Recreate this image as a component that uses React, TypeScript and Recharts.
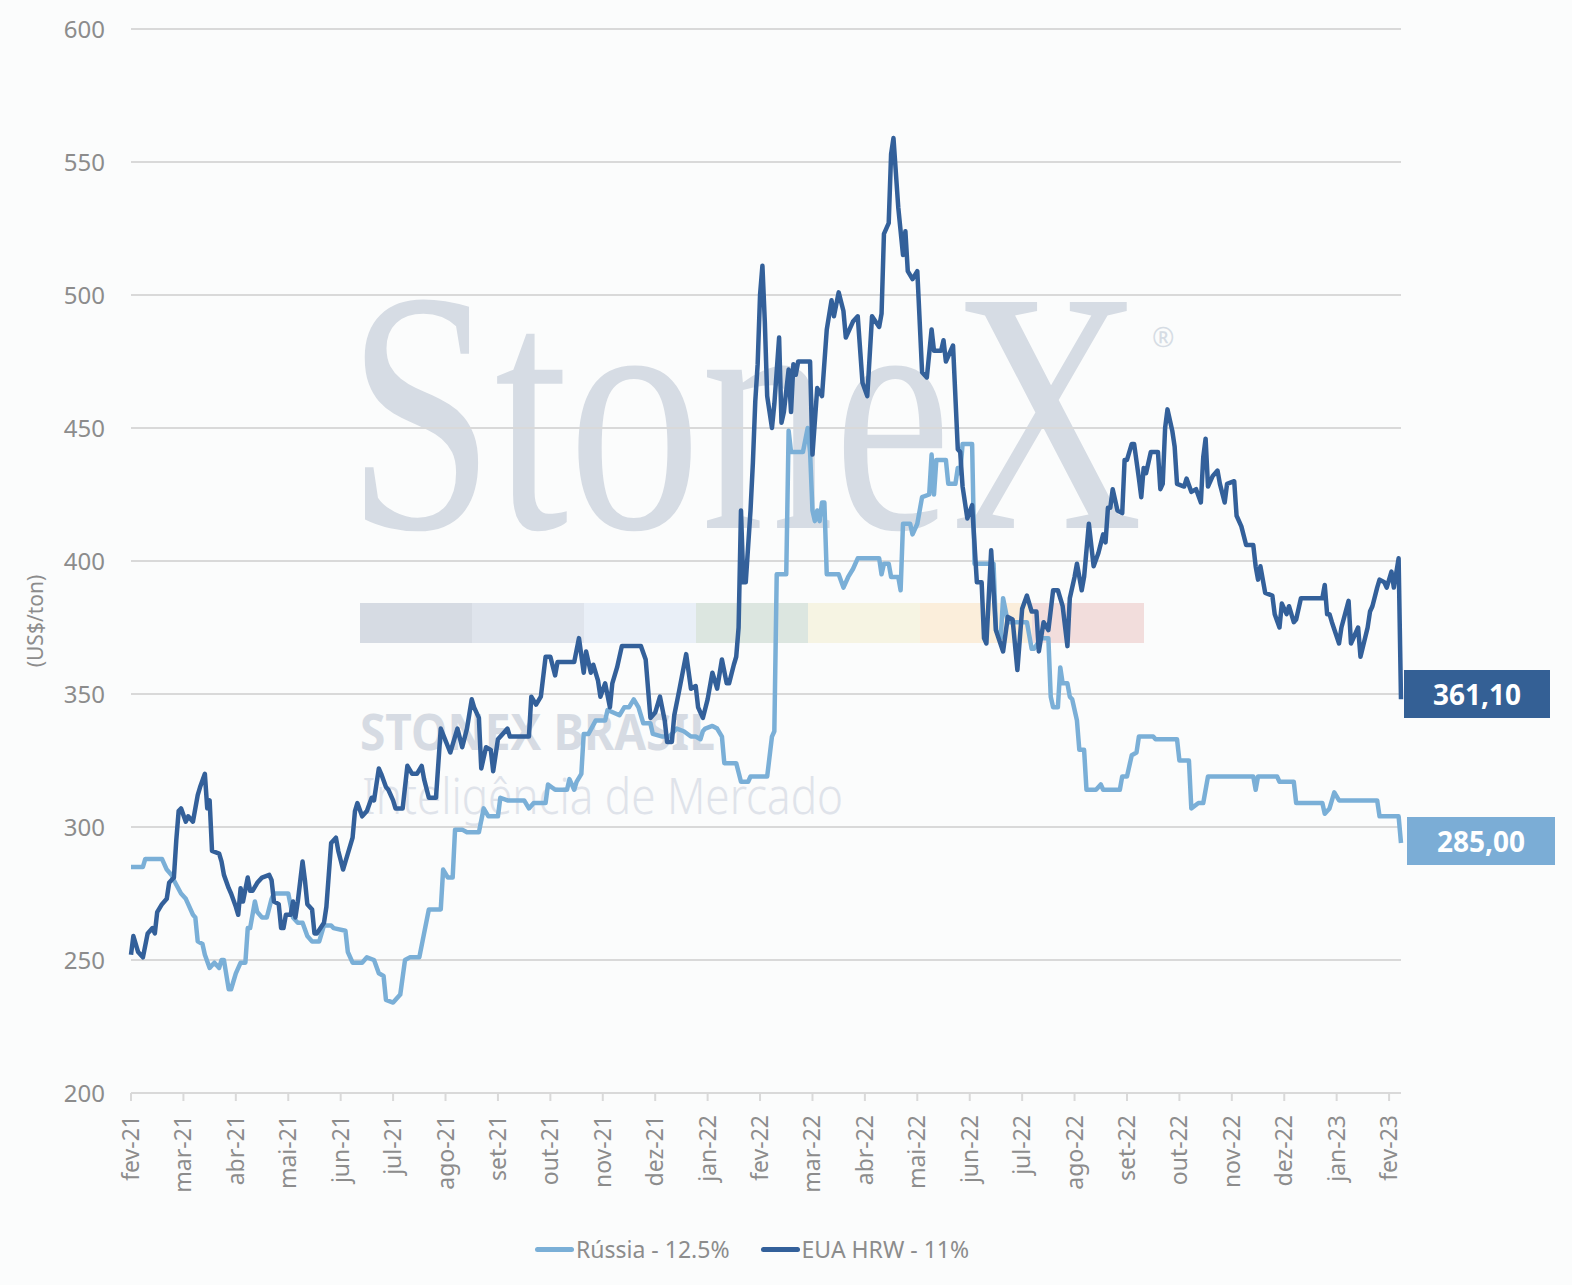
import { LineChart, Line, XAxis, YAxis, CartesianGrid } from "recharts";

// x = trading-day index (axis labels every 22 sessions, as in the source chart)
const monthLabels = [
  "fev-21", "mar-21", "abr-21", "mai-21", "jun-21", "jul-21", "ago-21", "set-21", "out-21",
  "nov-21", "dez-21", "jan-22", "fev-22", "mar-22", "abr-22", "mai-22", "jun-22", "jul-22",
  "ago-22", "set-22", "out-22", "nov-22", "dez-22", "jan-23", "fev-23",
];
const yTicks = [200, 250, 300, 350, 400, 450, 500, 550, 600];

// EUA HRW - 11%
const usDays = [
  0, 1, 3, 5, 7, 9, 10, 11, 13, 15,
  16, 18, 19, 20, 21, 23, 24, 26, 28, 29,
  31, 32, 33, 34, 37, 38, 39, 41, 42, 44,
  45, 46, 47, 49, 50, 51, 53, 55, 58, 59,
  60, 62, 63, 64, 65, 67, 68, 69, 70, 72,
  73, 74, 76, 77, 78, 81, 82, 83, 84, 86,
  87, 89, 91, 93, 94, 95, 97, 99, 101, 102,
  104, 105, 107, 108, 110, 111, 114, 116, 118, 120,
  122, 123, 125, 128, 130, 134, 137, 139, 141, 143,
  144, 146, 147, 149, 151, 152, 154, 156, 158, 159,
  167, 168, 170, 172, 174, 176, 178, 179, 186, 188,
  190, 191, 193, 194, 196, 197, 199, 201, 202, 204,
  206, 214, 216, 218, 220, 222, 224, 225, 227, 228,
  230, 233, 235, 237, 238, 240, 242, 244, 246, 248,
  250, 251, 253, 254, 255, 256, 257, 258, 260, 261,
  262, 263, 264, 265, 266, 267, 269, 270, 272, 273,
  274, 276, 277, 278, 279, 280, 285, 286, 288, 290,
  292, 294, 295, 297, 299, 300, 303, 305, 307, 309,
  311, 314, 315, 316, 318, 319, 320, 322, 324, 325,
  326, 328, 330, 332, 334, 336, 337, 340, 341, 342,
  345, 347, 348, 349, 351, 353, 355, 357, 358, 359,
  361, 363, 366, 368, 370, 372, 374, 376, 378, 380,
  381, 383, 385, 387, 389, 391, 393, 394, 396, 397,
  399, 400, 402, 404, 406, 408, 409, 410, 411, 412,
  414, 416, 417, 418, 420, 421, 423, 424, 425, 426,
  428, 431, 432, 433, 434, 435, 437, 438, 439, 442,
  443, 445, 447, 449, 450, 451, 452, 454, 456, 457,
  459, 460, 463, 464, 466, 468, 471, 472, 473, 474,
  476, 479, 480, 482, 483, 485, 486, 488, 489, 491,
  500, 501, 502, 503, 504, 507, 508, 511, 512, 515,
  516, 519, 520, 521, 523, 524, 526, 527, 529, 530,
  532, 533,
];
const usPrices = [
  252, 259, 253, 251, 260, 262, 260, 268, 271, 273,
  279, 281, 295, 306, 307, 302, 304, 302, 312, 315,
  320, 307, 310, 291, 290, 287, 282, 277, 275, 270,
  267, 277, 272, 281, 276, 276, 279, 281, 282, 280,
  272, 271, 262, 262, 267, 267, 272, 266, 272, 287,
  280, 271, 269, 260, 260, 264, 270, 282, 294, 296,
  291, 284, 290, 296, 306, 309, 304, 306, 311, 310,
  322, 320, 315, 314, 310, 307, 307, 323, 320, 320,
  323, 318, 311, 311, 337, 328, 337, 330, 337, 348,
  345, 341, 322, 330, 329, 321, 333, 335, 337, 334,
  334, 349, 346, 349, 364, 364, 357, 362, 362, 371,
  358, 366, 358, 361, 355, 349, 354, 345, 354, 360,
  368, 368, 363, 341, 343, 349, 340, 332, 332, 342,
  351, 365, 352, 353, 345, 341, 348, 358, 352, 363,
  354, 354, 361, 364, 375, 419, 392, 392, 419, 437,
  460, 474, 500, 511, 490, 462, 450, 459, 484, 452,
  456, 472, 456, 474, 470, 475, 475, 440, 465, 462,
  487, 498, 492, 501, 494, 484, 490, 492, 467, 462,
  492, 488, 493, 523, 527, 553, 559, 533, 515, 524,
  509, 506, 509, 471, 469, 487, 479, 479, 483, 475,
  481, 442, 441, 428, 416, 421, 392, 392, 371, 369,
  404, 374, 366, 379, 378, 359, 382, 387, 381, 381,
  366, 377, 374, 389, 389, 383, 368, 386, 394, 399,
  389, 394, 414, 398, 403, 410, 407, 420, 420, 427,
  419, 418, 438, 438, 444, 444, 431, 424, 435, 433,
  441, 441, 427, 429, 450, 457, 449, 443, 429, 428,
  431, 426, 427, 422, 439, 446, 428, 432, 434, 429,
  422, 429, 430, 417, 413, 406, 406, 398, 393, 398,
  388, 387, 380, 375, 384, 380, 383, 377, 378, 386,
  386, 391, 380, 380, 377, 369, 375, 385, 369, 375,
  364, 375, 381, 383, 390, 393, 392, 390, 396, 390,
  401, 348,
];

// Rússia - 12.5%
const ruDays = [
  0, 5, 6, 13, 15, 17, 18, 21, 23, 24,
  26, 27, 28, 30, 31, 33, 34, 35, 37, 38,
  39, 41, 42, 44, 46, 48, 49, 50, 52, 53,
  55, 57, 59, 60, 65, 66, 68, 70, 72, 74,
  76, 79, 81, 84, 85, 90, 91, 93, 97, 99,
  102, 104, 106, 107, 110, 113, 115, 117, 121, 123,
  125, 130, 131, 133, 135, 136, 139, 141, 146, 148,
  150, 154, 155, 158, 165, 167, 169, 174, 175, 178,
  183, 184, 186, 187, 189, 190, 192, 195, 199, 200,
  205, 207, 209, 211, 213, 215, 218, 219, 223, 226,
  229, 232, 235, 237, 239, 240, 241, 244, 246, 248,
  249, 254, 256, 259, 260, 267, 269, 270, 271, 275,
  276, 277, 282, 284, 285, 286, 287, 288, 289, 290,
  291, 292, 297, 299, 301, 303, 305, 314, 315, 316,
  318, 319, 322, 323, 324, 327, 328, 330, 332, 335,
  336, 337, 338, 342, 343, 346, 347, 348, 349, 353,
  354, 362, 363, 365, 366, 368, 376, 378, 379, 382,
  385, 386, 387, 389, 390, 391, 393, 394, 395, 397,
  398, 400, 401, 405, 407, 408, 415, 416, 418, 420,
  422, 423, 429, 430, 439, 440, 444, 445, 448, 450,
  452, 471, 472, 473, 481, 482, 488, 489, 500, 501,
  503, 505, 507, 523, 524, 532, 533,
];
const ruPrices = [
  285, 285, 288, 288, 284, 282, 280, 275, 273, 271,
  267, 266, 257, 256, 252, 247, 248, 249, 247, 250,
  250, 239, 239, 245, 249, 249, 262, 262, 272, 268,
  266, 266, 273, 275, 275, 275, 266, 264, 264, 259,
  257, 257, 263, 263, 262, 261, 253, 249, 249, 251,
  250, 245, 244, 235, 234, 237, 250, 251, 251, 260,
  269, 269, 284, 281, 281, 299, 299, 298, 298, 307,
  304, 304, 311, 310, 310, 307, 309, 309, 316, 314,
  314, 318, 314, 317, 320, 335, 335, 340, 340, 344,
  342, 345, 345, 348, 345, 339, 339, 335, 334, 334,
  337, 336, 334, 334, 333, 336, 337, 338, 337, 334,
  324, 324, 317, 317, 319, 319, 334, 336, 395, 395,
  449, 441, 441, 450, 441, 419, 415, 419, 415, 422,
  422, 395, 395, 390, 394, 397, 401, 401, 395, 399,
  399, 394, 394, 389, 414, 414, 410, 414, 424, 425,
  440, 425, 438, 438, 429, 429, 435, 433, 444, 444,
  399, 399, 374, 371, 386, 377, 377, 367, 367, 371,
  371, 349, 345, 345, 360, 354, 354, 349, 348, 340,
  329, 329, 314, 314, 316, 314, 314, 319, 319, 327,
  328, 334, 334, 333, 333, 325, 325, 307, 309, 309,
  319, 319, 314, 319, 319, 317, 317, 309, 309, 305,
  307, 313, 310, 310, 304, 304, 294,
];

const usData = usDays.map((d, i) => ({ d, v: usPrices[i] }));
const ruData = ruDays.map((d, i) => ({ d, v: ruPrices[i] }));
const monthTicks = monthLabels.map((_, i) => i * 22);

const FONT = "'Noto Sans', sans-serif";
const GREY = "#8c8c8c";
const DARK = "#33609a";
const LIGHT = "#7aafd7";

const MonthTick = (props: any) => {
  const { x, y, payload } = props;
  const label = monthLabels[Math.round(payload.value / 22)] ?? "";
  const tx = x + 8;
  const ty = y + 12;
  return (
    <text x={tx} y={ty} transform={`rotate(-90 ${tx} ${ty})`} textAnchor="end" fill={GREY} fontSize={23} fontFamily={FONT}>
      {label}
    </text>
  );
};

const bandColors = ["#d6dbe3", "#dfe4ec", "#e9eff7", "#dce6e0", "#f6f4e3", "#fbeedb", "#f2dddc"];

export default function App() {
  return (
    <div style={{ position: "absolute", left: 0, top: 0, width: 1572, height: 1285, background: "#fbfcfc", fontFamily: FONT, overflow: "hidden" }}>
      {/* watermark */}
      <svg width={1572} height={1285} style={{ position: "absolute", left: 0, top: 0 }}>
        <text x={0} y={0} transform="translate(347 528) scale(0.769 1)" fontFamily="'Liberation Serif', serif" fontSize={345} fill="#d6dce4">
          StoneX
        </text>
        <text x={1152} y={347} fontFamily={FONT} fontSize={27} fill="#d6dce4">®</text>
        {bandColors.map((c, i) => (
          <rect key={c} x={360 + i * 112} y={603} width={112} height={40} fill={c} />
        ))}
        <text x={360} y={750} fontFamily={FONT} fontWeight={700} fontSize={50} fill="#d6dbe3" textLength={355} lengthAdjust="spacingAndGlyphs">
          STONEX BRASIL
        </text>
        <text x={362} y={814} fontFamily={FONT} fontWeight={300} fontSize={50} fill="#dfe3ea" textLength={481} lengthAdjust="spacingAndGlyphs">
          Inteligência de Mercado
        </text>
      </svg>

      <div style={{ position: "absolute", left: 0, top: 0 }}>
        <LineChart width={1572} height={1285} margin={{ top: 29, right: 171, bottom: 0, left: 0 }}>
          <CartesianGrid vertical={false} stroke="#d9d9d9" strokeWidth={2} />
          <XAxis
            dataKey="d"
            type="number"
            domain={[0, 533]}
            ticks={monthTicks}
            interval={0}
            height={192}
            tick={<MonthTick />}
            tickSize={8}
            axisLine={{ stroke: "#d9d9d9", strokeWidth: 2 }}
            tickLine={{ stroke: "#d9d9d9", strokeWidth: 2 }}
          />
          <YAxis
            type="number"
            domain={[200, 600]}
            ticks={yTicks}
            width={131}
            axisLine={false}
            tickLine={false}
            tickSize={0}
            tickMargin={26}
            tick={{ fill: GREY, fontSize: 24, fontFamily: FONT }}
          />
          <Line data={ruData} dataKey="v" type="linear" stroke={LIGHT} strokeWidth={4.5} strokeLinejoin="round" dot={false} isAnimationActive={false} />
          <Line data={usData} dataKey="v" type="linear" stroke={DARK} strokeWidth={4.5} strokeLinejoin="round" dot={false} isAnimationActive={false} />
        </LineChart>
      </div>

      {/* y-axis title */}
      <svg width={80} height={1285} style={{ position: "absolute", left: 0, top: 0 }}>
        <text x={43} y={621} transform="rotate(-90 43 621)" textAnchor="middle" fill={GREY} fontSize={21} fontFamily={FONT}>
          (US$/ton)
        </text>
      </svg>

      {/* last value tags */}
      <div style={{ position: "absolute", left: 1404, top: 670, width: 146, height: 48, background: "#346095", color: "#fff", fontWeight: 700, fontSize: 28, display: "flex", alignItems: "center", justifyContent: "center" }}>
        361,10
      </div>
      <div style={{ position: "absolute", left: 1407, top: 817, width: 148, height: 48, background: "#7badd6", color: "#fff", fontWeight: 700, fontSize: 28, display: "flex", alignItems: "center", justifyContent: "center" }}>
        285,00
      </div>

      {/* legend */}
      <div style={{ position: "absolute", left: 535, top: 1233, display: "flex", alignItems: "center", color: GREY, fontSize: 23, whiteSpace: "nowrap" }}>
        <span style={{ display: "inline-block", width: 39, height: 5, borderRadius: 3, background: LIGHT }} />
        <span style={{ marginLeft: 2 }}>Rússia - 12.5%</span>
        <span style={{ display: "inline-block", width: 39, height: 5, borderRadius: 3, background: DARK, marginLeft: 31 }} />
        <span style={{ marginLeft: 2 }}>EUA HRW - 11%</span>
      </div>
    </div>
  );
}
